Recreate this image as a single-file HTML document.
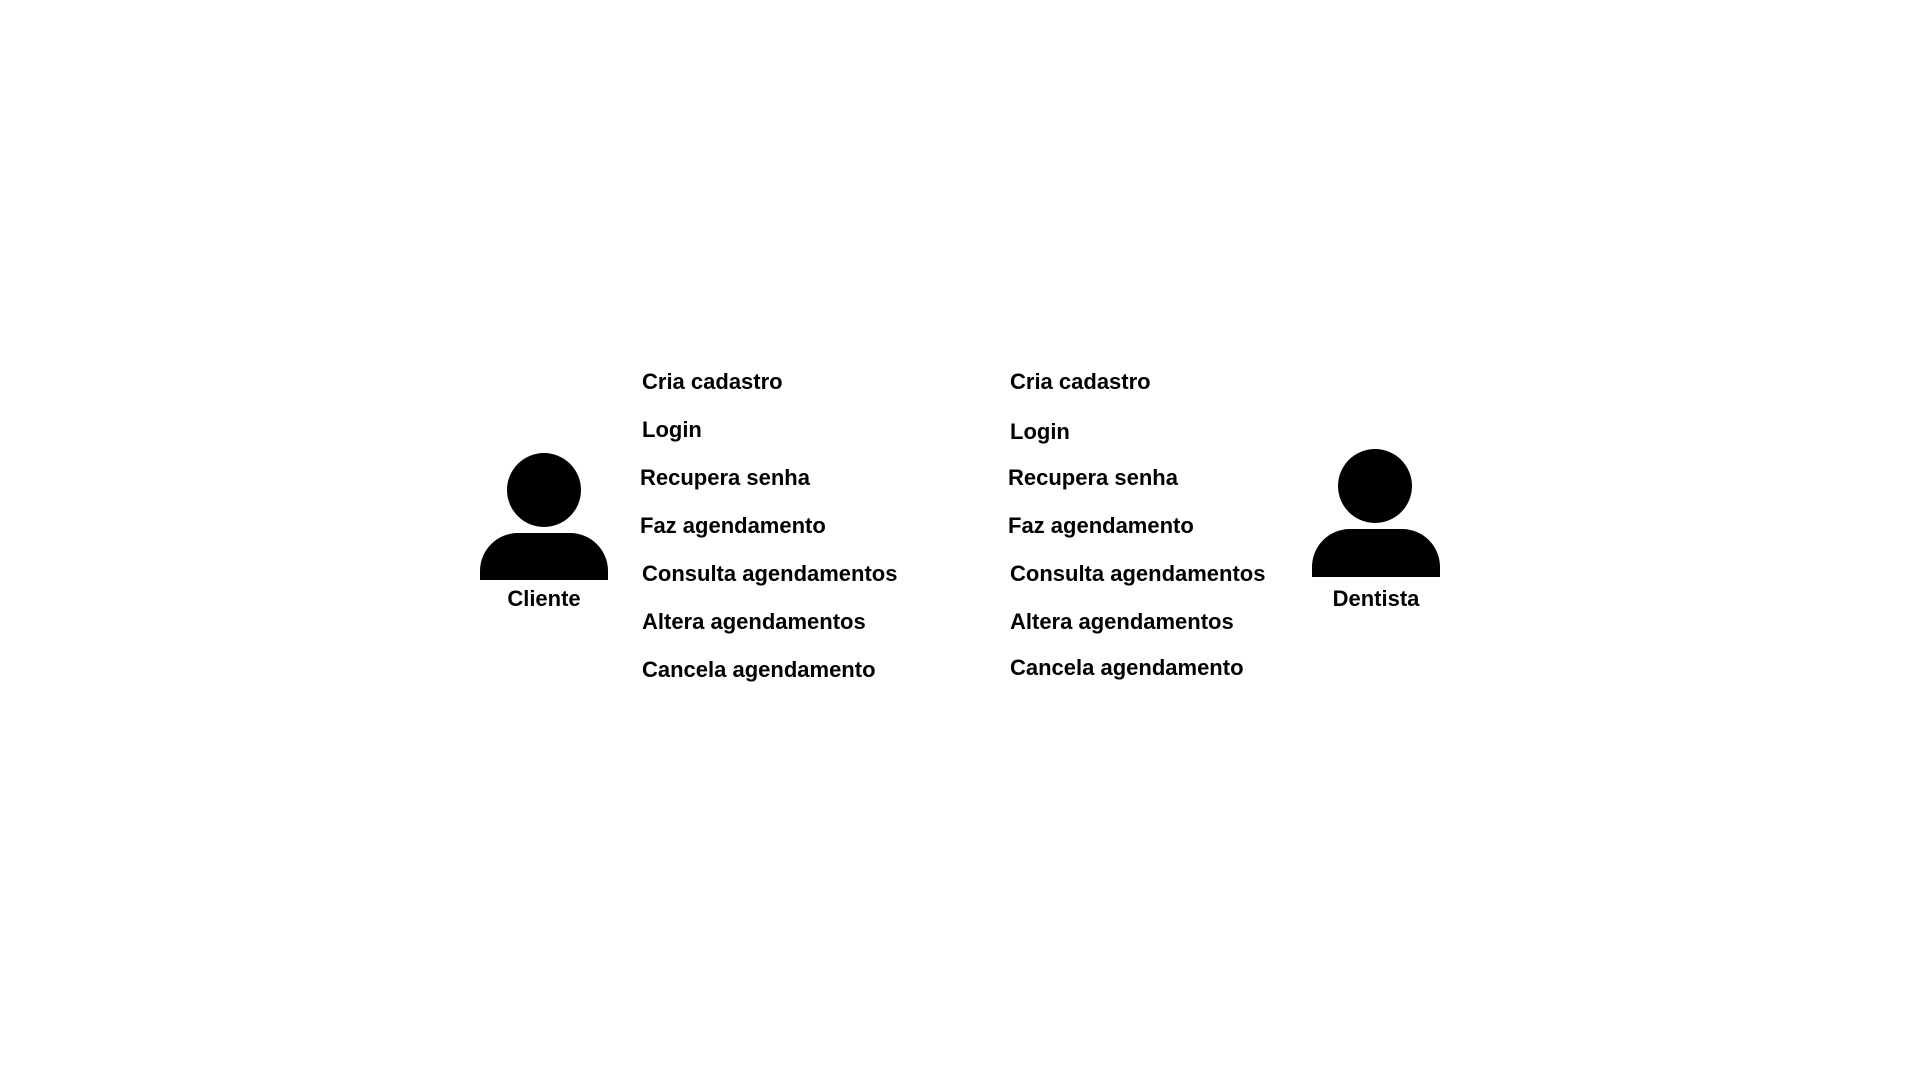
<!DOCTYPE html>
<html><head><meta charset="utf-8"><style>
body{margin:0;width:1920px;height:1080px;background:#fff;position:relative;overflow:hidden;font-family:"Liberation Sans",sans-serif;font-weight:bold;color:#000}
.t{position:absolute;font-size:22px;line-height:24px;white-space:nowrap;transform:translateY(-50%)}
.c{transform:translate(-50%,-50%)}
.head{position:absolute;border-radius:50%;background:#000;width:74px;height:74px}
.body{position:absolute;background:#000;border-radius:38px 38px 0 0}
</style></head><body>
<div class="head" style="left:507px;top:453px"></div>
<div class="body" style="left:480px;top:533px;width:128px;height:47px"></div>
<div class="t c" style="left:544px;top:599px">Cliente</div>
<div class="head" style="left:1338px;top:449px"></div>
<div class="body" style="left:1312px;top:529px;width:128px;height:48px"></div>
<div class="t c" style="left:1376px;top:599px">Dentista</div>

<div class="t" style="left:642px;top:382px">Cria cadastro</div>
<div class="t" style="left:642px;top:430px">Login</div>
<div class="t" style="left:640px;top:478px">Recupera senha</div>
<div class="t" style="left:640px;top:526px">Faz agendamento</div>
<div class="t" style="left:642px;top:574px">Consulta agendamentos</div>
<div class="t" style="left:642px;top:622px">Altera agendamentos</div>
<div class="t" style="left:642px;top:670px">Cancela agendamento</div>

<div class="t" style="left:1010px;top:382px">Cria cadastro</div>
<div class="t" style="left:1010px;top:432px">Login</div>
<div class="t" style="left:1008px;top:478px">Recupera senha</div>
<div class="t" style="left:1008px;top:526px">Faz agendamento</div>
<div class="t" style="left:1010px;top:574px">Consulta agendamentos</div>
<div class="t" style="left:1010px;top:622px">Altera agendamentos</div>
<div class="t" style="left:1010px;top:668px">Cancela agendamento</div>
</body></html>
